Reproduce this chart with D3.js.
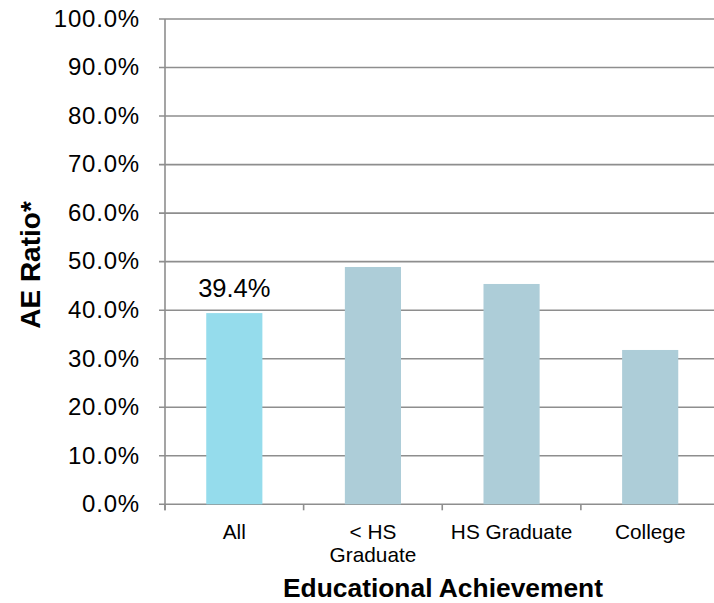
<!DOCTYPE html>
<html>
<head>
<meta charset="utf-8">
<script src="https://cdn.jsdelivr.net/npm/d3@7"></script>
<style>
  html, body { margin: 0; padding: 0; background: #fff; }
  svg { display: block; font-family: "Liberation Sans", Arial, sans-serif; }
</style>
</head>
<body>
<svg id="chart" width="714" height="603"></svg>
<script>
// Categories (each may wrap onto two lines)
const categories = ["All", "< HS Graduate", "HS Graduate", "College"];
const categoryLines = [["All"], ["< HS", "Graduate"], ["HS Graduate"], ["College"]];
// AE ratio per category, in percent
const values = [39.4, 48.9, 45.4, 31.8];
const barColors = ["#95dcec", "#adcdd8", "#adcdd8", "#adcdd8"];
const yTicks = [0, 10, 20, 30, 40, 50, 60, 70, 80, 90, 100];
const labeledIndex = 0;

const svg = d3.select("#chart");
const plotLeft = 165, plotTop = 19, plotBottom = 504.3, plotRight = 719.5;

const x = d3.scaleBand().domain(categories).range([plotLeft, plotRight]).padding(0);
const y = d3.scaleLinear().domain([0, 100]).range([plotBottom, plotTop]);
const barW = x.bandwidth() * 0.405;

// Horizontal gridlines with small ticks to the left of the axis
svg.append("g").selectAll("line").data(yTicks).join("line")
  .attr("x1", plotLeft - 6).attr("x2", 714)
  .attr("y1", d => y(d)).attr("y2", d => y(d))
  .attr("stroke", "#8e8e8e").attr("stroke-width", 1.6);

// Bars
svg.append("g").selectAll("rect").data(values).join("rect")
  .attr("x", (d, i) => x(categories[i]) + (x.bandwidth() - barW) / 2)
  .attr("width", barW)
  .attr("y", d => y(d))
  .attr("height", d => y(0) - y(d))
  .attr("fill", (d, i) => barColors[i]);

// Vertical axis line
svg.append("line")
  .attr("x1", plotLeft).attr("x2", plotLeft).attr("y1", plotTop).attr("y2", plotBottom + 6)
  .attr("stroke", "#8e8e8e").attr("stroke-width", 1.6);

// Category boundary ticks below the baseline
svg.append("g").selectAll("line").data(categories).join("line")
  .attr("x1", d => x(d)).attr("x2", d => x(d))
  .attr("y1", plotBottom).attr("y2", plotBottom + 6)
  .attr("stroke", "#8e8e8e").attr("stroke-width", 1.6);

// Y tick labels
svg.append("g").selectAll("text").data(yTicks).join("text")
  .attr("x", 140).attr("y", d => y(d) + 7.8)
  .attr("text-anchor", "end")
  .attr("font-size", 24).attr("letter-spacing", 0.8).attr("fill", "#000")
  .text(d => d3.format(".1f")(d) + "%");

// Category labels
const catG = svg.append("g").selectAll("text").data(categoryLines).join("text")
  .attr("text-anchor", "middle")
  .attr("font-size", 20.8).attr("fill", "#000");
catG.each(function(lines, i) {
  const cx = x(categories[i]) + x.bandwidth() / 2;
  d3.select(this).selectAll("tspan").data(lines).join("tspan")
    .attr("x", cx).attr("y", (d, j) => 539 + j * 22.5)
    .text(d => d);
});

// Value label for the highlighted bar
svg.append("text")
  .attr("x", x(categories[labeledIndex]) + x.bandwidth() / 2)
  .attr("y", y(values[labeledIndex]) - 15.7)
  .attr("text-anchor", "middle")
  .attr("font-size", 25.5).attr("fill", "#000")
  .text(values[labeledIndex].toFixed(1) + "%");

// Axis titles
svg.append("text")
  .attr("x", 443).attr("y", 597)
  .attr("text-anchor", "middle")
  .attr("font-size", 25).attr("font-weight", "bold")
  .attr("textLength", 320).attr("lengthAdjust", "spacingAndGlyphs")
  .text("Educational Achievement");

svg.append("text")
  .attr("transform", "translate(39.5,265) rotate(-90)")
  .attr("text-anchor", "middle")
  .attr("font-size", 28).attr("font-weight", "bold")
  .text("AE Ratio*");
</script>
</body>
</html>
